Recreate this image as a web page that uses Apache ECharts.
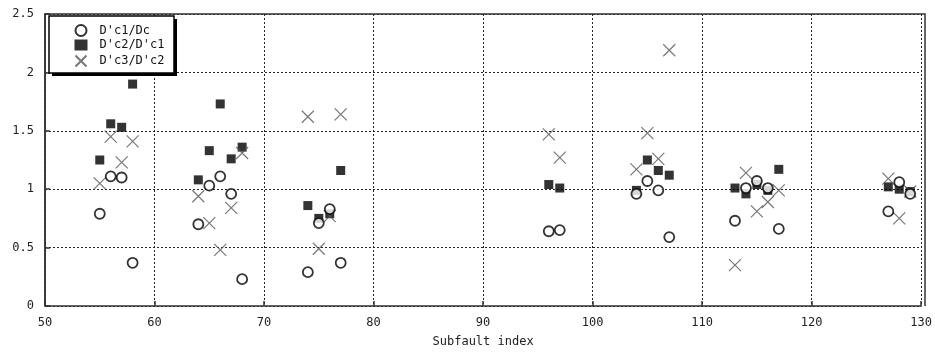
<!DOCTYPE html>
<html>
<head>
<meta charset="utf-8">
<script src="https://cdn.jsdelivr.net/npm/echarts@6/dist/echarts.min.js"></script>
<style>
html,body{margin:0;padding:0;background:#fff}
#chart{width:935px;height:354px}
</style>
</head>
<body>
<div id="chart"></div>
<script>
// subfault index for every group of three ratios
var idx = [55,56,57,58, 64,65,66,67,68, 74,75,76,77, 96,97, 104,105,106,107, 113,114,115,116,117, 127,128,129];
var dc1 = [0.79,1.11,1.10,0.37, 0.70,1.03,1.11,0.96,0.23, 0.29,0.71,0.83,0.37, 0.64,0.65, 0.96,1.07,0.99,0.59, 0.73,1.01,1.07,1.01,0.66, 0.81,1.06,0.96];
var dc2 = [1.25,1.56,1.53,1.90, 1.08,1.33,1.73,1.26,1.36, 0.86,0.75,0.79,1.16, 1.04,1.01, 0.99,1.25,1.16,1.12, 1.01,0.96,1.04,0.99,1.17, 1.02,1.00,0.98];
var dc3 = [1.05,1.45,1.23,1.41, 0.94,0.71,0.48,0.84,1.31, 1.62,0.49,0.77,1.64, 1.47,1.27, 1.17,1.48,1.26,2.19, 0.35,1.14,0.81,0.89,0.99, 1.09,0.75,0.98];
var names = ["D'c1/Dc", "D'c2/D'c1", "D'c3/D'c2"];

function pairs(ys) {
    return idx.map(function (x, i) { return [x, ys[i]]; });
}

var font = 'DejaVu Sans Mono';
var myChart = echarts.init(document.getElementById('chart'));
var option = {
    animation: false,
    grid: { left: 45, right: 10, top: 14, bottom: 48, show: false },
    legend: {
        orient: 'vertical',
        left: 73, top: 24,
        padding: 0,
        itemGap: 2,
        itemWidth: 13, itemHeight: 11,
        z: 20,
        textStyle: { fontFamily: font, fontSize: 12, color: '#111', padding: [0, 0, 0, 7] },
        data: names
    },
    xAxis: {
        type: 'value', min: 50, max: 130, interval: 10,
        name: 'Subfault index', nameLocation: 'middle', nameGap: 30,
        nameTextStyle: { fontFamily: font, fontSize: 12, color: '#222' },
        axisLine: { show: true, onZero: false, lineStyle: { color: '#333', width: 1.5 } },
        axisTick: { show: true, inside: true, length: 5, lineStyle: { color: '#333', width: 1.5 } },
        axisLabel: { fontFamily: font, fontSize: 12, color: '#222', margin: 11 },
        splitLine: { show: true, lineStyle: { color: '#222', type: [2, 2], width: 1 } }
    },
    yAxis: {
        type: 'value', min: 0, max: 2.5, interval: 0.5,
        axisLine: { show: true, lineStyle: { color: '#333', width: 1.5 } },
        axisTick: { show: true, inside: true, length: 5, lineStyle: { color: '#333', width: 1.5 } },
        axisLabel: { fontFamily: font, fontSize: 12, color: '#222', margin: 11 },
        splitLine: { show: true, lineStyle: { color: '#222', type: [2, 2], width: 1 } }
    },
    graphic: [
        {
            // closing frame on top and right
            type: 'polyline', z: 5,
            shape: { points: [[45, 306], [45, 14], [925, 14], [925, 306]] },
            style: { stroke: '#333', lineWidth: 1.5, fill: null },
            silent: true
        },
        {
            // legend box shadow
            type: 'rect', z: 10,
            shape: { x: 52, y: 19, width: 125, height: 57 },
            style: { fill: '#000' },
            silent: true
        },
        {
            // legend box
            type: 'rect', z: 11,
            shape: { x: 49, y: 16, width: 125, height: 57 },
            style: { fill: '#fff', stroke: '#000', lineWidth: 1.5 },
            silent: true
        }
    ],
    series: [
        {
            name: names[1], type: 'scatter', z: 2,
            symbol: 'rect', symbolSize: 9,
            itemStyle: { color: '#000' },
            data: pairs(dc2)
        },
        {
            name: names[2], type: 'scatter', z: 3,
            symbol: 'path://M0,0L10,10M10,0L0,10', symbolSize: 12,
            itemStyle: { color: 'none', borderColor: '#555', borderWidth: 1.2 },
            data: pairs(dc3)
        },
        {
            name: names[0], type: 'scatter', z: 4,
            symbol: 'circle', symbolSize: 10,
            itemStyle: { color: '#fff', borderColor: '#000', borderWidth: 1.8 },
            data: pairs(dc1)
        }
    ]
};
myChart.setOption(option);
</script>
</body>
</html>
